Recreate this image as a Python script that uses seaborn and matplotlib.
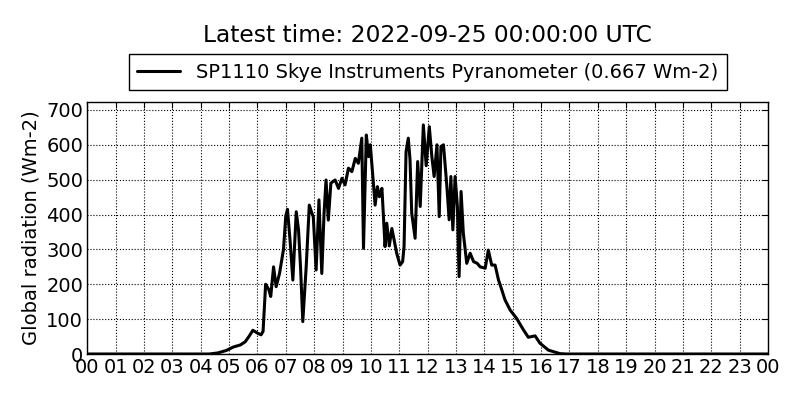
import pandas as pd
import seaborn as sns
import matplotlib.pyplot as plt
import matplotlib.dates as mdates

# hours since midnight (2022-09-24) and global radiation readings (Wm-2)
hours = [0.0, 4.3, 4.6, 4.9, 5.15, 5.4, 5.57, 5.7, 5.84, 6.0, 6.13, 6.2, 6.29, 6.4, 6.47,
         6.57, 6.66, 6.78, 6.92, 7.0, 7.06, 7.15, 7.25, 7.37, 7.45, 7.52, 7.6, 7.72, 7.83,
         7.92, 7.97, 8.07, 8.17, 8.27, 8.35, 8.42, 8.5, 8.59, 8.74, 8.86, 8.98, 9.09, 9.21,
         9.33, 9.45, 9.56, 9.68, 9.74, 9.84, 9.92, 9.98, 10.07, 10.15, 10.23, 10.3, 10.39,
         10.5, 10.56, 10.65, 10.74, 10.82, 10.91, 11.03, 11.12, 11.17, 11.24, 11.32, 11.38,
         11.44, 11.56, 11.65, 11.74, 11.85, 11.95, 12.06, 12.15, 12.23, 12.33, 12.41, 12.47,
         12.56, 12.68, 12.76, 12.82, 12.89, 12.97, 13.05, 13.11, 13.18, 13.26, 13.38, 13.5,
         13.62, 13.75, 13.85, 14.03, 14.14, 14.26, 14.38, 14.5, 14.56, 14.73, 14.91, 15.14,
         15.38, 15.55, 15.79, 15.96, 16.26, 16.67, 16.9, 24.0]
radiation = [0, 0, 3, 10, 20, 26, 35, 50, 68, 60, 55, 65, 200, 185, 165,
             250, 193, 231, 300, 395, 415, 327, 212, 408, 356, 250, 93, 250, 427,
             404, 394, 241, 442, 231, 404, 499, 384, 490, 499, 475, 504, 485, 533,
             523, 561, 547, 619, 303, 628, 566, 600, 509, 427, 480, 451, 475,
             308, 375, 310, 360, 327, 289, 255, 265, 308, 580, 619, 557,
             404, 332, 552, 423, 657, 540, 652, 566, 509, 600, 394, 595,
             600, 480, 385, 509, 356, 509, 423, 222, 466, 346, 260, 289,
             265, 260, 250, 246, 298, 255, 255, 212, 198, 155, 126, 102,
             69, 48, 52, 31, 11, 1, 0, 0]

sensor = "SP1110 Skye Instruments Pyranometer (0.667 Wm-2)"
day = pd.Timestamp("2022-09-24 00:00:00")

df = pd.DataFrame({"time": day + pd.to_timedelta(hours, unit="h"),
                   "radiation": radiation})

sns.set_style("white")
plt.rcParams['font.family'] = ['DejaVu Sans']
plt.rcParams['text.color'] = 'black'
plt.rcParams['axes.labelcolor'] = 'black'
plt.rcParams['xtick.color'] = 'black'
plt.rcParams['ytick.color'] = 'black'

fig = plt.figure(figsize=(8, 4), dpi=100)
ax = fig.add_axes([0.109, 0.115, 0.851, 0.63])

sns.lineplot(x="time", y="radiation", data=df, ax=ax, color="black", linewidth=2.2, label=sensor)

ax.set_xlim(day, day + pd.Timedelta(hours=24))
ax.set_ylim(0, max(radiation) * 1.1)
ax.set_yticks(range(0, 701, 100))
ax.xaxis.set_major_locator(mdates.HourLocator(interval=1))
ax.xaxis.set_major_formatter(mdates.DateFormatter("%H"))

ax.grid(True, color="black", linestyle=":", linewidth=0.8)
ax.tick_params(direction="in", length=4, top=True, right=True, labelsize=14, pad=3)
for s in ax.spines.values():
    s.set_color("black")
    s.set_linewidth(1)

ax.set_xlabel("")
ax.set_ylabel("Global radiation (Wm-2)", fontsize=14, labelpad=4)

leg = ax.legend(loc="lower center", bbox_to_anchor=(0.5, 1.008), fontsize=14, fancybox=False,
                edgecolor="black", framealpha=1, handlelength=2.2, borderpad=0.45)
leg.get_frame().set_linewidth(1)

# title centred over the axes, not the figure
fig.suptitle("Latest time: 2022-09-25 00:00:00 UTC", x=0.109 + 0.851 / 2, y=0.9125,
             va="center", fontsize=16.8)

plt.savefig("out.png", dpi=100)
